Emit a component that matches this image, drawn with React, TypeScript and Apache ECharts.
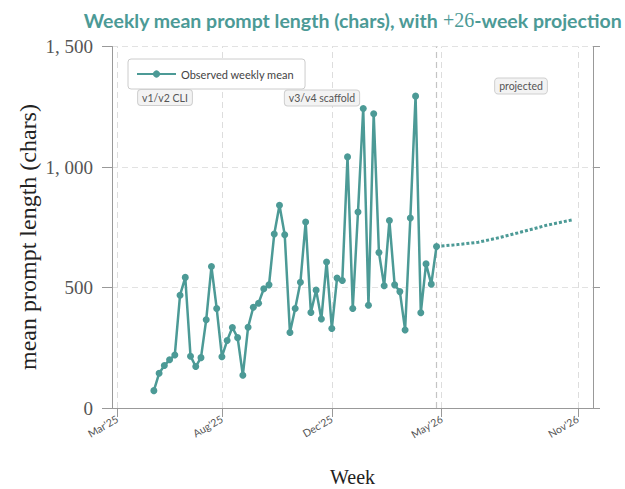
import React, { useEffect, useRef } from "react";
import * as echarts from "echarts";

// Observed weekly mean prompt length (chars), week index 0..54
const observedValues = [
  72, 144, 176, 200, 220, 468, 542, 215, 172, 209,
  366, 587, 413, 213, 280, 334, 292, 136, 335, 418,
  435, 495, 511, 722, 841, 719, 313, 413, 522, 772,
  396, 489, 369, 606, 330, 539, 529, 1042, 413, 813,
  1243, 426, 1221, 645, 507, 778, 511, 483, 324, 788,
  1294, 395, 598, 514, 670,
];

// +26-week projection
const projectionWeeks = [54, 58, 62, 66, 70, 75, 80];
const projectionValues = [670, 678, 688, 707, 729, 758, 781];

// x-axis ticks (week index) and their labels
const tickWeeks = [-7, 13, 34, 55, 81];
const tickLabels = ["Mar'25", "Aug'25", "Dec'25", "May'26", "Nov'26"];
const projectionStartWeek = 54;

const TEAL = "#4C9A96";
const SERIF = "'Liberation Serif', 'DejaVu Serif', serif";
const SANS = "Lato, 'Open Sans', sans-serif";

function fmtY(v: number): string {
  if (v >= 1000) {
    const th = Math.floor(v / 1000);
    const rest = String(v % 1000).padStart(3, "0");
    return `${th}, ${rest}`;
  }
  return String(v);
}

export default function App() {
  const ref = useRef<HTMLDivElement>(null);
  useEffect(() => {
    if (!ref.current) return;
    const chart = echarts.init(ref.current, undefined, { renderer: "svg" });
    const annBox = {
      fill: "#555",
      fontFamily: SANS,
      fontSize: 10.5,
      backgroundColor: "#f3f3f3",
      borderColor: "#cfcfcf",
      borderWidth: 1,
      borderRadius: 3,
      padding: [2, 4, 2, 4],
      align: "center",
      verticalAlign: "middle",
    };
    chart.setOption({
      animation: false,
      backgroundColor: "#ffffff",
      grid: {
        left: 112,
        right: 32,
        top: 46.5,
        bottom: 81,
        containLabel: false,
        outerBoundsMode: "none",
      },
      legend: {
        data: ["Observed weekly mean"],
        left: 128,
        top: 59,
        itemWidth: 39,
        itemHeight: 9,
        padding: [8, 11, 8, 8],
        borderColor: "#cccccc",
        borderWidth: 1,
        borderRadius: 3,
        backgroundColor: "#ffffff",
        textStyle: { fontFamily: SANS, fontSize: 11, color: "#444", lineHeight: 14 },
      },
      xAxis: {
        type: "value",
        min: -8,
        max: 83.9,
        name: "Week",
        nameLocation: "middle",
        nameGap: 59,
        nameTextStyle: { fontFamily: SERIF, fontSize: 20, color: "#222" },
        axisLine: { show: true, onZero: false, lineStyle: { color: "#999", width: 1 } },
        axisTick: {
          show: true,
          length: 9,
          customValues: tickWeeks,
          lineStyle: { color: "#999" },
        },
        axisLabel: {
          show: true,
          customValues: tickWeeks,
          rotate: 30,
          margin: 10,
          fontFamily: SANS,
          fontSize: 10.5,
          color: "#555",
          formatter: (v: number) => {
            const i = tickWeeks.indexOf(Math.round(v));
            return i >= 0 ? tickLabels[i] : "";
          },
        },
        splitLine: { show: false },
        minorTick: { show: false },
        minorSplitLine: { show: false },
      },
      yAxis: [
        {
          type: "value",
          min: 0,
          max: 1500,
          interval: 500,
          axisLine: { show: true, onZero: false, lineStyle: { color: "#999", width: 1 } },
          axisTick: { show: true, length: 10, lineStyle: { color: "#999" } },
          axisLabel: {
            margin: 19,
            fontFamily: SERIF,
            fontSize: 19,
            color: "#555",
            formatter: (v: number) => fmtY(v),
          },
          splitLine: { show: true, lineStyle: { color: "#e2e2e2", type: [6, 4], width: 1 } },
        },
        {
          type: "value",
          position: "right",
          min: 0,
          max: 1500,
          interval: 500,
          axisLine: { show: true, onZero: false, lineStyle: { color: "#999", width: 1 } },
          axisTick: { show: true, length: 7, lineStyle: { color: "#999" } },
          axisLabel: { show: false },
          splitLine: { show: false },
        },
      ],
      graphic: [
        {
          type: "text",
          x: 352.5,
          y: 20,
          style: {
            text: "{a|Weekly mean prompt length (chars), with }{b|+26}{a|-week projection}",
            align: "center",
            verticalAlign: "middle",
            rich: {
              a: { fontFamily: SANS, fontWeight: "bold", fontSize: 19.5, fill: TEAL, color: TEAL },
              b: { fontFamily: SERIF, fontSize: 20, fill: TEAL, color: TEAL },
            },
          },
          z: 10,
        },
        {
          type: "text",
          x: 28,
          y: 237,
          rotation: Math.PI / 2,
          style: {
            text: "mean prompt length (chars)",
            fontFamily: SERIF,
            fontSize: 24,
            fill: "#222",
            align: "center",
            verticalAlign: "middle",
          },
          z: 10,
        },
        { type: "text", x: 165, y: 97.5, style: { text: "v1/v2 CLI", ...annBox }, z: 10 },
        { type: "text", x: 322, y: 98, style: { text: "v3/v4 scaffold", ...annBox }, z: 10 },
        { type: "text", x: 521, y: 86, style: { text: "projected", ...annBox }, z: 10 },
      ],
      series: [
        {
          name: "Observed weekly mean",
          type: "line",
          data: observedValues.map((v, i) => [i, v]),
          symbol: "circle",
          symbolSize: 7,
          lineStyle: { color: TEAL, width: 2.5 },
          itemStyle: { color: TEAL },
          z: 4,
          markLine: {
            silent: true,
            symbol: "none",
            label: { show: false },
            lineStyle: { color: "#dddddd", type: [6, 4], width: 1 },
            data: tickWeeks.map((w) => ({ xAxis: w })),
            z: 1,
          },
        },
        {
          name: "Projection",
          type: "line",
          data: projectionWeeks.map((w, i) => [w, projectionValues[i]]),
          symbol: "none",
          lineStyle: { color: TEAL, width: 3, type: [3, 2] },
          z: 3,
          markLine: {
            silent: true,
            symbol: "none",
            label: { show: false },
            lineStyle: { color: "#c4c4c4", type: [6, 4], width: 1.2 },
            data: [{ xAxis: projectionStartWeek }],
            z: 1,
          },
        },
      ],
    });
    return () => chart.dispose();
  }, []);
  return (
    <div
      ref={ref}
      style={{ position: "fixed", left: 0, top: 0, width: 625, height: 489, background: "#fff" }}
    />
  );
}
